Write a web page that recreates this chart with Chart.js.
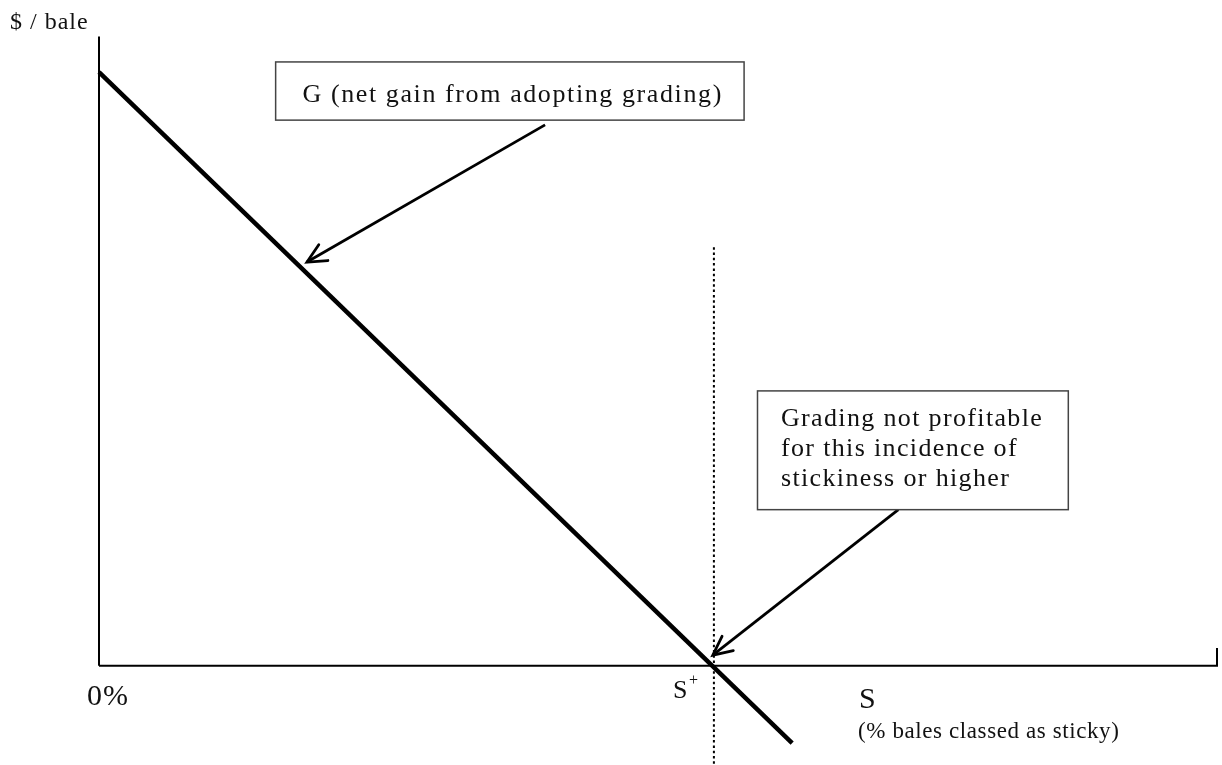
<!DOCTYPE html>
<html>
<head>
<meta charset="utf-8">
<script src="https://cdn.jsdelivr.net/npm/chart.js@4/dist/chart.umd.min.js"></script>
<style>
    html, body { margin: 0; padding: 0; background: #ffffff; }
    #wrap { width: 1222px; height: 765px; position: relative; }
</style>
</head>
<body>
<div id="wrap"><canvas id="chart"></canvas></div>
<script>
// G line: net gain from grading vs. share of sticky bales
const gS = [0, 62]
const gValue = [100, -13]

// S+ where G crosses zero, dotted marker range
const sPlus = 55
const dottedY = [70.5, -16.5]

// axis extents
const yAxisTop = 106
const xAxisEnd = 100
const endTick = 3

// arrows: [x, y] from -> to
const arrowFrom = [[39.9, 91.1], [71.5, 26.3]]
const arrowTo = [[18.6, 68.0], [54.9, 1.8]]

// annotation boxes: [x1, y1, x2, y2]
const boxes = [[15.8, 101.7, 57.7, 91.9], [58.9, 46.3, 86.7, 26.3]]
const boxLines = [
    ['G (net gain from adopting grading)'],
    ['Grading not profitable', 'for this incidence of', 'stickiness or higher']
]
const boxLineY = [[94.95], [40.4, 35.35, 30.3]]
const boxTextX = [37.0, 61.0]
const boxFont = [26, 26]
const boxSpacing = [1.6, 1.35]

// free labels: text, x, y, size, spacing
const labelText = ['$ / bale', '0%', 'S', '+', 'S', '(% bales classed as sticky)']
const labelX = [-7.96, -1.07, 51.34, 52.77, 67.98, 67.89]
const labelY = [107.2, -6.57, -5.39, -3.2, -7.07, -12.12]
const labelSize = [24, 30, 26, 16, 30, 23]
const labelSpacing = [1, 1, 0, 0, 0, 0.6]

const serif = '"Liberation Serif", "Times New Roman", serif'
const ink = '#000000'

function pts(xs, ys) {
    return xs.map((x, i) => ({ x: x, y: ys[i] }))
}

const lineSet = (data, width, extra) => Object.assign({
    data: data,
    borderColor: ink,
    borderWidth: width,
    pointRadius: 0,
    fill: false,
    tension: 0,
    clip: false
}, extra || {})

const datasets = [
    lineSet(pts([0, 0], [0, yAxisTop]), 2),
    lineSet(pts([0, xAxisEnd, xAxisEnd], [0, 0, endTick]), 2),
    lineSet(pts([sPlus, sPlus], dottedY), 2, { borderDash: [2.5, 2.8], borderCapStyle: 'butt' }),
    lineSet(pts(gS, gValue), 4.5, { borderCapStyle: 'butt' })
]
arrowFrom.forEach((f, i) => {
    datasets.push(lineSet(pts([f[0], arrowTo[i][0]], [f[1], arrowTo[i][1]]), 2.8))
})

// arrowheads, boxes and text
const notes = {
    id: 'notes',
    afterDatasetsDraw(chart) {
        const ctx = chart.ctx
        const xs = chart.scales.x
        const ys = chart.scales.y
        ctx.save()

        // arrowheads
        ctx.strokeStyle = ink
        ctx.lineWidth = 2.8
        ctx.lineCap = 'round'
        arrowTo.forEach((t, i) => {
            const tx = xs.getPixelForValue(t[0]), ty = ys.getPixelForValue(t[1])
            const fx = xs.getPixelForValue(arrowFrom[i][0]), fy = ys.getPixelForValue(arrowFrom[i][1])
            const ang = Math.atan2(fy - ty, fx - tx)
            const len = 21, spread = 0.45
            ctx.beginPath()
            ctx.moveTo(tx + len * Math.cos(ang + spread), ty + len * Math.sin(ang + spread))
            ctx.lineTo(tx, ty)
            ctx.lineTo(tx + len * Math.cos(ang - spread), ty + len * Math.sin(ang - spread))
            ctx.stroke()
        })

        // boxes
        ctx.lineWidth = 1.5
        ctx.strokeStyle = '#444444'
        boxes.forEach((b, i) => {
            const x1 = xs.getPixelForValue(b[0]), y1 = ys.getPixelForValue(b[1])
            const x2 = xs.getPixelForValue(b[2]), y2 = ys.getPixelForValue(b[3])
            ctx.fillStyle = '#ffffff'
            ctx.fillRect(x1, y1, x2 - x1, y2 - y1)
            ctx.strokeRect(x1, y1, x2 - x1, y2 - y1)
            ctx.fillStyle = '#111111'
            ctx.font = boxFont[i] + 'px ' + serif
            ctx.letterSpacing = boxSpacing[i] + 'px'
            ctx.textAlign = i === 0 ? 'center' : 'left'
            ctx.textBaseline = 'alphabetic'
            boxLines[i].forEach((line, j) => {
                ctx.fillText(line, xs.getPixelForValue(boxTextX[i]), ys.getPixelForValue(boxLineY[i][j]))
            })
        })

        // free labels
        ctx.textAlign = 'left'
        ctx.fillStyle = '#111111'
        labelText.forEach((txt, i) => {
            ctx.font = labelSize[i] + 'px ' + serif
            ctx.letterSpacing = labelSpacing[i] + 'px'
            ctx.fillText(txt, xs.getPixelForValue(labelX[i]), ys.getPixelForValue(labelY[i]))
        })
        ctx.restore()
    }
}

new Chart(document.getElementById('chart'), {
    type: 'line',
    data: { datasets: datasets },
    options: {
        responsive: true,
        maintainAspectRatio: false,
        animation: false,
        parsing: false,
        layout: { padding: { left: 99, right: 5, top: 37, bottom: 0 } },
        scales: {
            x: { type: 'linear', min: 0, max: 100, display: false },
            y: { type: 'linear', min: -16.7, max: 105.9, display: false }
        },
        plugins: {
            legend: { display: false },
            tooltip: { enabled: false }
        }
    },
    plugins: [notes]
})
</script>
</body>
</html>
